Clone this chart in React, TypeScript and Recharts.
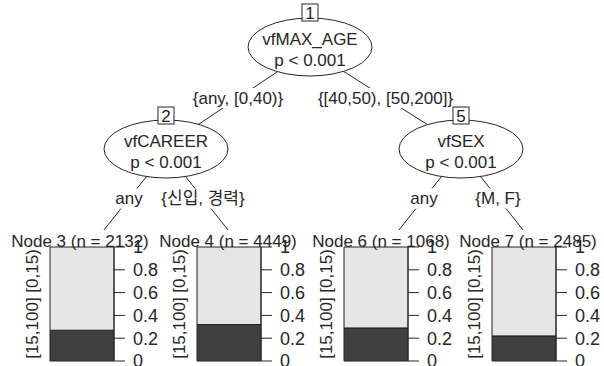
import { Bar, BarChart, XAxis, YAxis } from 'recharts';

// inner nodes of the tree
const innerIds = [1, 2, 5];
const innerVars = ['vfMAX_AGE', 'vfCAREER', 'vfSEX'];
const innerP = ['p < 0.001', 'p < 0.001', 'p < 0.001'];

// split labels, in the order parent -> left child, parent -> right child
const splitLabels = ['{any, [0,40)}', '{[40,50), [50,200]}', 'any', '{신입, 경력}', 'any', '{M, F}'];

// terminal nodes
const leafIds = [3, 4, 6, 7];
const leafN = [2132, 4449, 1068, 2485];
const classLabels = ['[0,15)', '[15,100]'];
const shareLow = [0.73, 0.68, 0.71, 0.78]; // [0,15)  (light, top)
const shareHigh = [0.27, 0.32, 0.29, 0.22]; // [15,100] (dark, bottom)
const ticks = [0, 0.2, 0.4, 0.6, 0.8, 1];

const FONT = '"Liberation Sans", Arial, "Noto Sans CJK KR", sans-serif';
const INK = '#262626';
const FS = 17;

// layout only
const innerPos = [
  { x: 310, y: 47 },
  { x: 166, y: 149 },
  { x: 461, y: 149 },
];
const boxTop = [4, 107, 107];
const leafTarget = [92, 240, 387, 535];
const leafTitleX = [80, 228, 381, 528];
const barLeft = [50, 197, 344, 492];
const RX = 62;
const RY = 29;

// edges: [parent inner index, child kind, child index]
const edges: Array<[number, 'inner' | 'leaf', number]> = [
  [0, 'inner', 1],
  [0, 'inner', 2],
  [1, 'leaf', 0],
  [1, 'leaf', 1],
  [2, 'leaf', 2],
  [2, 'leaf', 3],
];

function Tree() {
  const segs = edges.map(([p, kind, c], i) => {
    const x1 = innerPos[p].x;
    const y1 = innerPos[p].y + 3;
    const x2 = kind === 'inner' ? innerPos[c].x : leafTarget[c];
    const y2 = kind === 'inner' ? innerPos[c].y - 3 : 245;
    // leaf edges stop above the node title
    const yEnd = kind === 'inner' ? y2 : 230;
    const xEnd = x1 + ((x2 - x1) * (yEnd - y1)) / (y2 - y1);
    return { x1, y1, xEnd, yEnd, mx: (x1 + x2) / 2, my: (y1 + y2) / 2, label: splitLabels[i] };
  });
  return (
    <svg width={604} height={366} style={{ position: 'absolute', left: 0, top: 0 }} fontFamily={FONT}>
      {segs.map((s, i) => (
        <line key={i} x1={s.x1} y1={s.y1} x2={s.xEnd} y2={s.yEnd} stroke={INK} strokeWidth={1} />
      ))}
      {innerIds.map((id, i) => (
        <g key={id}>
          <ellipse cx={innerPos[i].x} cy={innerPos[i].y} rx={RX} ry={RY} fill="#fff" stroke={INK} />
          <text x={innerPos[i].x} y={innerPos[i].y - 8} textAnchor="middle" dominantBaseline="central" fontSize={FS} fill={INK}>
            {innerVars[i]}
          </text>
          <text x={innerPos[i].x} y={innerPos[i].y + 13} textAnchor="middle" dominantBaseline="central" fontSize={FS} fill={INK}>
            {innerP[i]}
          </text>
        </g>
      ))}
      {segs.map((s, i) => (
        <g key={'l' + i}>
          <rect x={s.mx - s.label.length * 4 - 2} y={s.my - 10} width={s.label.length * 8 + 4} height={20} fill="#fff" />
          <text x={s.mx} y={s.my} textAnchor="middle" dominantBaseline="central" fontSize={FS} fill={INK}>
            {s.label}
          </text>
        </g>
      ))}
      {innerIds.map((id, i) => (
        <g key={'b' + id}>
          <rect x={innerPos[i].x - 8} y={boxTop[i]} width={16} height={17} fill="#fff" stroke={INK} />
          <text x={innerPos[i].x} y={boxTop[i] + 9} textAnchor="middle" dominantBaseline="central" fontSize={FS} fill={INK}>
            {id}
          </text>
        </g>
      ))}
      {leafIds.map((id, i) => (
        <text key={'t' + id} x={leafTitleX[i]} y={241} textAnchor="middle" dominantBaseline="central" fontSize={FS} fill={INK}>
          {`Node ${id} (n = ${leafN[i]})`}
        </text>
      ))}
    </svg>
  );
}

function Leaf({ i }: { i: number }) {
  const data = [{ name: String(leafIds[i]), high: shareHigh[i], low: shareLow[i] }];
  return (
    <div style={{ position: 'absolute', left: barLeft[i] - 36, top: 240 }}>
      <BarChart
        width={150}
        height={131}
        data={data}
        margin={{ top: 7, right: 0, bottom: 10, left: 0 }}
        barCategoryGap={0}
      >
        <XAxis dataKey="name" hide />
        <YAxis
          yAxisId="lab"
          orientation="left"
          width={36}
          domain={[0, 1]}
          tick={false}
          axisLine={false}
          tickLine={false}
          label={{
            value: `${classLabels[1]} ${classLabels[0]}`,
            angle: -90,
            position: 'center',
            fill: INK,
            fontSize: 17,
            fontFamily: FONT,
          }}
        />
        <YAxis
          yAxisId="p"
          orientation="right"
          width={50}
          domain={[0, 1]}
          ticks={ticks}
          interval={0}
          tickSize={11}
          tickMargin={8}
          axisLine={{ stroke: INK }}
          tickLine={{ stroke: INK }}
          tick={{ fill: INK, fontSize: 18, fontFamily: FONT }}
        />
        <Bar yAxisId="p" dataKey="high" stackId="s" fill="#404040" stroke="#222" isAnimationActive={false} />
        <Bar yAxisId="p" dataKey="low" stackId="s" fill="#e6e6e6" stroke="#222" isAnimationActive={false} />
      </BarChart>
    </div>
  );
}

export default function App() {
  return (
    <div
      style={{
        position: 'absolute',
        left: 0,
        top: 0,
        width: 604,
        height: 366,
        overflow: 'hidden',
        background: '#fff',
      }}
    >
      {leafIds.map((id, i) => (
        <Leaf key={id} i={i} />
      ))}
      <Tree />
    </div>
  );
}
